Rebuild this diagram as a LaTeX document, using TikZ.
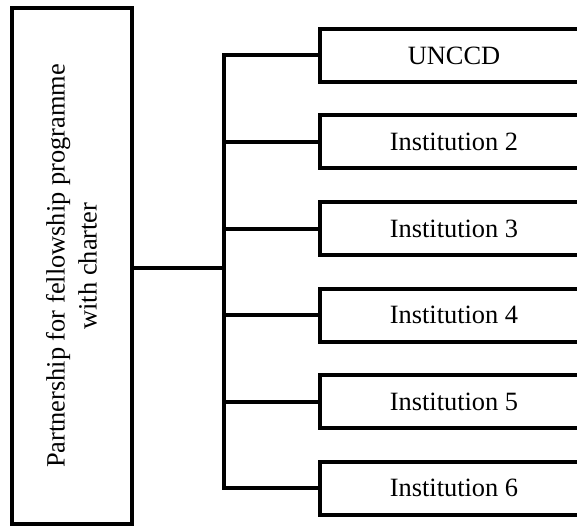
\documentclass[tikz,border=0pt]{standalone}
\usepackage{fontspec}
\setmainfont{Liberation Serif}
\usetikzlibrary{positioning}
\tikzset {
  box/.style = {
    draw = black,
    line width = 2pt,
    rectangle,
    inner sep = 0pt,
    font = \fontsize{13.2}{16}\selectfont
  },
  % the partnership box on the left, text turned up
  partnerbox/.style = {
    box,
    rotate = 90,
    minimum width = 258pt,
    minimum height = 60pt,
    align = center
  },
  % one box per institution
  inst/.style = {
    box,
    minimum width = 134pt,
    minimum height = 26.5pt
  },
  % connector lines
  link/.style = {
    draw = black,
    line width = 2pt
  },
  node distance = 14.75pt
}
\begin{document}
\begin{tikzpicture}[x=0.5pt, y=-0.5pt]
    \clip (0,0) rectangle (577,529);

    \node[partnerbox] (partner) at (71.5,266)
      {Partnership for fellowship programme\\with charter};

    \coordinate (bus) at (224,268);

    \node[inst, anchor=west] (unccd) at (318,55.5) {UNCCD};
    \node[inst] (inst2) [below=of unccd] {Institution 2};
    \node[inst] (inst3) [below=of inst2] {Institution 3};
    \node[inst] (inst4) [below=of inst3] {Institution 4};
    \node[inst] (inst5) [below=of inst4] {Institution 5};
    \node[inst] (inst6) [below=of inst5] {Institution 6};

    % trunk
    \draw[link] (partner.south |- bus) -- (bus);

    % bus with first and last branch
    \draw[link] (unccd.west) -| (bus) |- (inst6.west);

    % middle branches
    \foreach \n in {inst2,inst3,inst4,inst5}
      \draw[link] (\n.west) -- (\n.west -| bus);
\end{tikzpicture}
\end{document}
